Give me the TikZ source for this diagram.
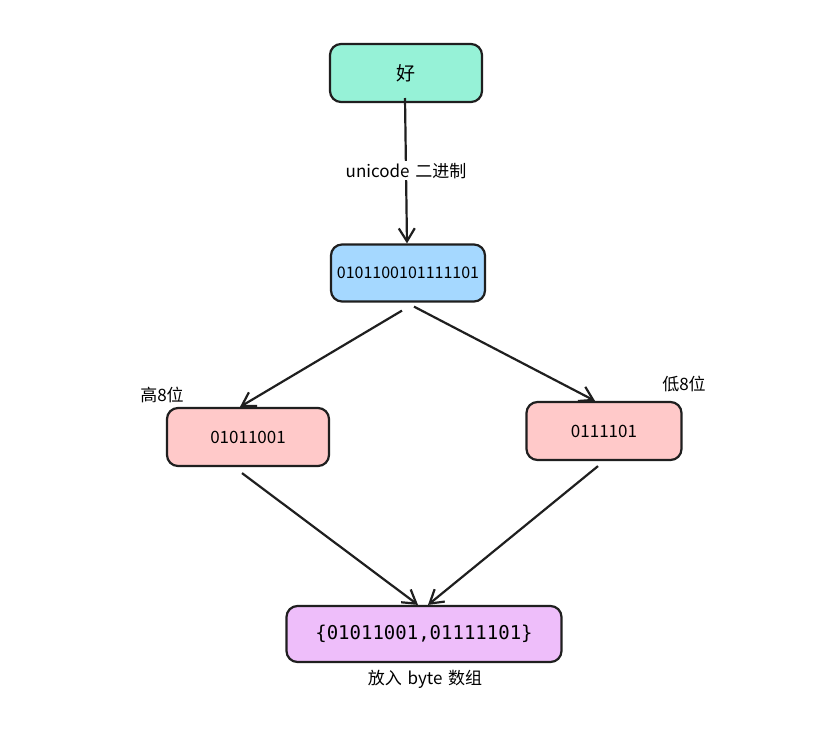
\documentclass[tikz,border=0pt]{standalone}
\usepackage{fontspec}
\setmainfont{Noto Sans CJK SC}
\setmonofont{DejaVu Sans Mono}
\usetikzlibrary{arrows.meta}
\definecolor{cteal}{HTML}{96F2D7}
\definecolor{cblue}{HTML}{A5D8FF}
\definecolor{cpink}{HTML}{FFC9C9}
\definecolor{cpurple}{HTML}{EEBEFA}
\begin{document}
\begin{tikzpicture}[x=1pt,y=-1pt,
  box/.style={draw=black!88, line width=2.2pt, rounded corners=11pt, inner sep=0pt, font=\fontsize{17}{20}\selectfont},
  conn/.style={draw=black!88, line width=2.2pt, -{Straight Barb[length=13pt,width=16pt,line width=2.2pt]}},
  lbl/.style={font=\fontsize{17}{20}\selectfont, inner sep=2pt}]
\useasboundingbox[fill=white] (0,0) rectangle (814,732);
\node[box, fill=cteal, minimum width=152pt, minimum height=58pt, font=\fontsize{19}{22}\selectfont] (hao) at (406,73) {好};
\node[box, fill=cblue, minimum width=154pt, minimum height=57pt, font=\fontsize{16}{20}\selectfont] (bin) at (408,273) {0101100101111101};
\node[box, fill=cpink, minimum width=162pt, minimum height=58pt] (hi) at (248,437) {01011001};
\node[box, fill=cpink, minimum width=155pt, minimum height=58pt] (lo) at (604,431) {0111101};
\node[box, fill=cpurple, minimum width=275pt, minimum height=56pt, font=\ttfamily\fontsize{19}{22}\selectfont] (arr) at (424,634) {\{01011001,01111101\}};
\node[lbl] (hil) at (162,395) {高8位};
\node[lbl] (lol) at (684,384) {低8位};
\node[lbl] (arrl) at (425,679) {放入\,\,byte\,\,数组};
\draw[conn] (405,98) -- node[fill=white, lbl] {unicode\,\,二进制} (bin.north -| 407,0);
\draw[conn] (bin.south -| 402,0) ++(0,8) -- (hi.north -| 240,0);
\draw[conn] (bin.south -| 414,0) ++(0,4) -- (lo.north -| 595,0);
\draw[conn] (hi.south -| 242,0) ++(0,6) -- (arr.north -| 418,0);
\draw[conn] (lo.south -| 598,0) ++(0,5) -- (arr.north -| 428,0);
\end{tikzpicture}
\end{document}
